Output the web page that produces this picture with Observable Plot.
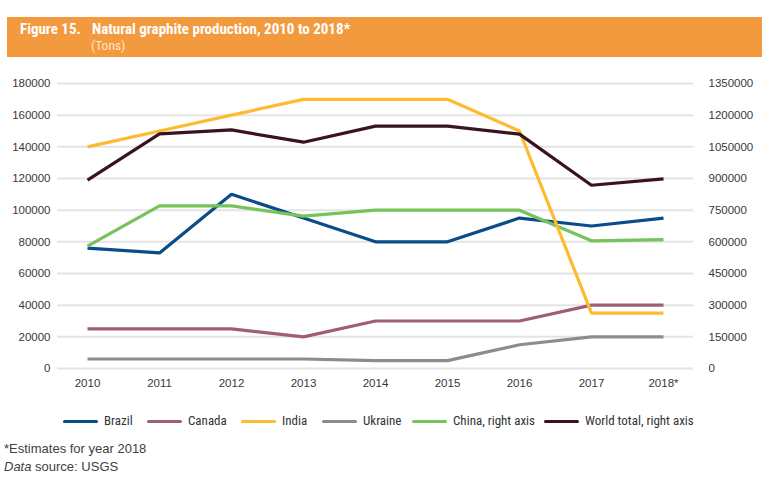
<!DOCTYPE html>
<html><head><meta charset="utf-8">
<script src="https://cdn.jsdelivr.net/npm/d3@7"></script>
<script src="https://cdn.jsdelivr.net/npm/@observablehq/plot@0.6"></script>
<style>
body{margin:0;background:#fff;width:768px;height:477px;position:relative;overflow:hidden;font-family:"Liberation Sans",Arial;color:#333}
.narrow{font-family:"Roboto Condensed","DejaVu Sans Condensed","Liberation Sans"}
#hdr{position:absolute;left:7px;top:17px;width:755px;height:40px;background:#F39A3E;color:#fff}
.t{position:absolute;white-space:nowrap;line-height:1}
#t1a{left:13px;top:5px;font-size:15px;font-weight:bold}
#t1b{left:85px;top:5px;font-size:15px;font-weight:bold}
#t2{left:84px;top:22px;font-size:13.5px;color:#fde6cc}
#chart{position:absolute;left:0;top:62px}
#legend{position:absolute;left:0;top:412px;height:18px;width:768px;font-size:13px;color:#333}
.sw{position:absolute;top:7.5px;width:35px;height:3px;border-radius:1.5px}
.lt{position:absolute;top:0;white-space:nowrap;line-height:18px}
#f1{position:absolute;left:4px;top:441px;font-size:13px;color:#404040;white-space:nowrap}
#f2{position:absolute;left:4px;top:459px;font-size:13px;color:#404040;white-space:nowrap}
</style></head>
<body>
<div id="hdr" class="narrow"><div class="t" id="t1a">Figure 15.</div><div class="t" id="t1b">Natural graphite production, 2010 to 2018*</div><div class="t" id="t2">(Tons)</div></div>
<div id="chart"></div>
<div id="legend" class="narrow"></div>
<div id="f1">*Estimates for year 2018</div>
<div id="f2"><i>Data</i> source: USGS</div>
<script>
const years = ["2010","2011","2012","2013","2014","2015","2016","2017","2018*"];
const brazil  = [76000, 73000, 110000, 95000, 80000, 80000, 95000, 90000, 95000];
const canada  = [25000, 25000, 25000, 20000, 30000, 30000, 30000, 40000, 40000];
const india   = [140000, 150000, 160000, 170000, 170000, 170000, 150000, 35000, 35000];
const ukraine = [6000, 6000, 6000, 6000, 5000, 5000, 15000, 20000, 20000];
const china   = [580000, 770000, 770000, 722000, 750000, 750000, 750000, 605000, 610000]; // right axis
const world   = [892000, 1111000, 1130000, 1072000, 1148000, 1148000, 1110000, 868000, 898000]; // right axis
const leftTicks  = [0,20000,40000,60000,80000,100000,120000,140000,160000,180000];
const rightTicks = [0,150000,300000,450000,600000,750000,900000,1050000,1200000,1350000];

const seriesNames = ["Brazil","Canada","India","Ukraine","China, right axis","World total, right axis"];
const seriesColors = ["#0A4C8A","#A05E76","#FDBB30","#8C8C8E","#76C35A","#3B1220"];
const ratio = rightTicks[rightTicks.length-1] / leftTicks[leftTicks.length-1];

const seriesData = [
  {name:"Brazil", values:brazil, right:false},
  {name:"Canada", values:canada, right:false},
  {name:"Ukraine", values:ukraine, right:false},
  {name:"China, right axis", values:china, right:true},
  {name:"India", values:india, right:false},
  {name:"World total, right axis", values:world, right:true}
];
const rows = seriesData.flatMap(s => s.values.map((v,i) => ({series:s.name, year:years[i], value:v, yl: s.right ? v/ratio : v})));

const chart = Plot.plot({
  width:768, height:340,
  marginLeft:57, marginRight:75, marginTop:21, marginBottom:34,
  style:{fontFamily:"'Liberation Sans', Arial", fontSize:"11.5px", color:"#383838", background:"transparent"},
  x:{type:"point", domain:years, range:[85,665], padding:0},
  y:{domain:[0,180000], range:[306,21]},
  color:{domain:seriesNames, range:seriesColors},
  marks:[
    Plot.ruleY(leftTicks, {stroke:"#e4e4e4", strokeWidth:2}),
    Plot.axisY(leftTicks, {anchor:"left", tickSize:0, tickPadding:7, tickFormat:d => String(d), label:null}),
    Plot.axisY(leftTicks, {anchor:"right", tickSize:0, tickPadding:15, textAnchor:"start", tickFormat:d => String(Math.round(d*ratio)), label:null}),
    Plot.axisX({tickSize:0, tickPadding:10, label:null}),
    Plot.line(rows, {x:"year", y:"yl", z:"series", stroke:"series", strokeWidth:3.2, strokeLinejoin:"miter", strokeLinecap:"butt"})
  ]
});
document.getElementById("chart").appendChild(chart);

const legendX = [63, 147, 241, 322, 412, 544];
const leg = document.getElementById("legend");
seriesNames.forEach((n,i) => {
  const sw = document.createElement("span");
  sw.className = "sw";
  sw.style.left = legendX[i] + "px";
  sw.style.background = seriesColors[i];
  leg.appendChild(sw);
  const t = document.createElement("span");
  t.className = "lt";
  t.style.left = (legendX[i] + 41) + "px";
  t.textContent = n;
  leg.appendChild(t);
});
</script>
</body></html>
